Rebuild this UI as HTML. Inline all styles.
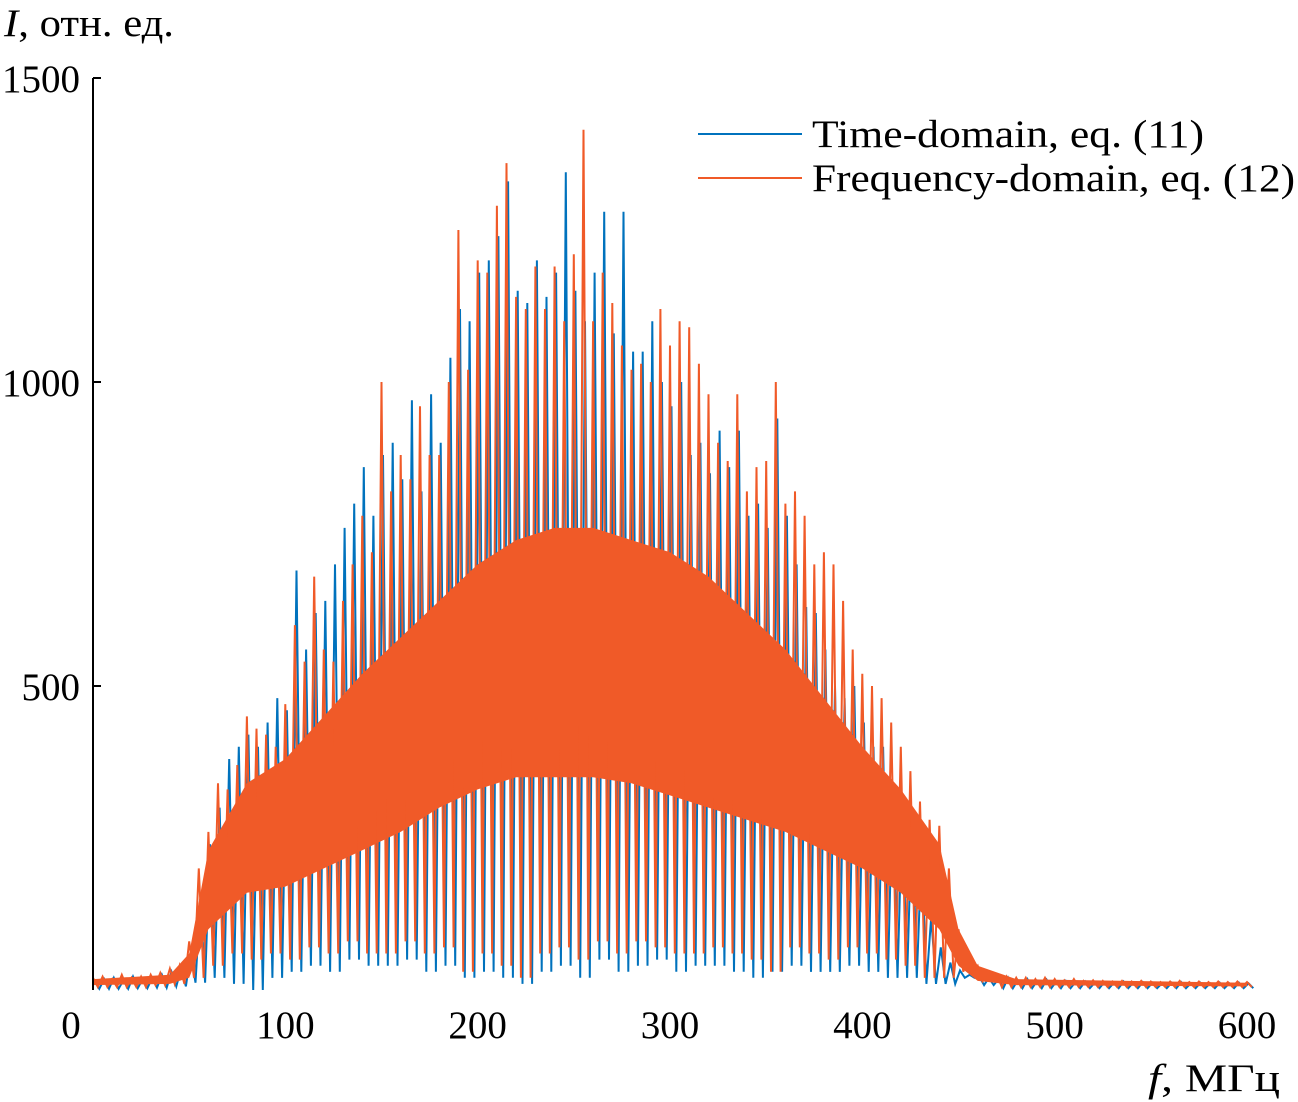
<!DOCTYPE html>
<html><head><meta charset="utf-8"><style>
html,body{margin:0;padding:0;background:#fff;}
svg{display:block;font-family:"Liberation Serif",serif;}
</style></head><body>
<svg id="chart" width="1298" height="1102" viewBox="0 0 1298 1102" xmlns="http://www.w3.org/2000/svg">
<g id="plot"></g>
<g>
<line x1="93" y1="78" x2="93" y2="990" stroke="#000" stroke-width="2"/>
</g>
<g id="yticks"></g>
<g id="xticks"></g>
<text x="4" y="36" font-size="39" textLength="170" lengthAdjust="spacingAndGlyphs"><tspan font-style="italic">I</tspan>, отн. ед.</text>
<text x="1148" y="1091" font-size="39" textLength="132" lengthAdjust="spacingAndGlyphs"><tspan font-style="italic">f</tspan>, МГц</text>
<g>
<g>
<line x1="698" y1="134" x2="802" y2="134" stroke="#0072bd" stroke-width="2"/>
<text x="812" y="147" font-size="39" textLength="392" lengthAdjust="spacingAndGlyphs">Time-domain, eq. (11)</text></g>
<g>
<line x1="698" y1="178" x2="802" y2="178" stroke="#f05a28" stroke-width="2"/>
<text x="812" y="191" font-size="39" textLength="483" lengthAdjust="spacingAndGlyphs">Frequency-domain, eq. (12)</text></g>
</g>
</svg>
<script>
const xTicks=[0,100,200,300,400,500,600];
const yTicks=[500,1000,1500];
const orangeHi=[20,22,18,25,20,22,25,28,35,
40,80,200,260,340,330,370,450,430,420,400,470,600,540,680,560,540,640,700,780,720,1000,820,880,840,960,880,880,1000,1250,1020,1200,1180,1290,1360,1140,1120,1190,1120,1190,1100,1210,1415,1100,1180,1130,1060,1020,1030,1000,1120,1060,1100,1090,1030,980,900,870,980,820,860,870,1000,800,820,780,700,720,700,640,560,520,500,480,440,400,360,310,280,270,200,100,60,40,30,
25,22,20,20,18,20,18,16,18,15,16,15,14,15,14,15,14,13,14,15,13,14,13,14,13,14,13];
const blueHi=[15,18,20,16,22,18,20,25,30,
35,60,150,240,300,380,400,420,400,440,480,460,690,560,620,640,700,760,800,860,780,880,900,840,970,820,980,900,1040,1120,1100,1180,1200,1240,1330,1150,1130,1200,1140,1180,1345,1150,1100,1180,1280,1080,1280,1050,1050,1100,1000,960,1000,880,900,850,920,860,920,780,800,760,940,780,700,630,620,560,500,480,500,440,400,400,340,300,290,230,120,70,45,32,25,22,20,
18,20,16,18,15,17,14,15,13,14,12,13,12,14,12,13,12,11,12,13,11,12,11,12,11,12,11];
const orangeLo=[5,5,5,8,10,20,40,60,50,60,50,70,60,80,60,60,80,60,70,30,60,40,20,60,70,50,80,60,80,70,60,60,70,60,50,30,70,60,50,70,60,50,40,20,20,30,15,5,5,5,5,5,5,5,5,5,5,5,5,5,5];
const blueLo=[2,2,3,4,6,12,20,10,0,20,30,40,30,50,40,40,50,30,40,20,30,20,10,30,40,20,50,30,40,50,30,40,40,30,20,30,40,30,30,40,30,20,20,10,10,20,8,3,3,3,3,3,3,3,3,3,3,3,3,3,3];
const coreX=[0,40,50,60,80,100,120,140,160,180,200,220,240,260,280,300,320,340,360,380,400,420,440,450,460,480,600];
const coreLo=[8,10,20,100,160,170,200,230,260,300,330,350,350,350,340,320,300,280,260,230,200,160,100,40,15,8,6];
const coreHi=[18,25,60,230,340,380,450,520,580,640,700,740,760,760,740,720,680,620,560,480,400,330,240,100,40,18,12];

const X=v=>93+v*(1154/600);
const Y=v=>990-v*(912/1500);
const NS="http://www.w3.org/2000/svg";
const plot=document.getElementById('plot');
function mk(tag,attrs,parent){const e=document.createElementNS(NS,tag);for(const k in attrs)e.setAttribute(k,attrs[k]);parent.appendChild(e);return e;}

function spikes(hi,lo,off){
  let pts=[];
  for(let i=0;i<hi.length;i++){
    const f=i*5;
    pts.push(X(f+off).toFixed(1)+','+Y(hi[i]).toFixed(1));
    pts.push(X(f+off+2.5).toFixed(1)+','+Y(lo[Math.floor(i/2)]).toFixed(1));
  }
  return pts.join(' ');
}
const b=mk('polyline',{points:spikes(blueHi,blueLo,0.8),fill:'none',stroke:'#0072bd','stroke-width':2},plot);



let cp=[];
for(let i=0;i<coreX.length;i++)cp.push(X(coreX[i]).toFixed(1)+','+Y(coreHi[i]).toFixed(1));
for(let i=coreX.length-1;i>=0;i--)cp.push(X(coreX[i]).toFixed(1)+','+Y(coreLo[i]).toFixed(1));
const c=mk('polygon',{points:cp.join(' '),fill:'#f05a28'},plot);



const o=mk('polyline',{points:spikes(orangeHi,orangeLo,0),fill:'none',stroke:'#f05a28','stroke-width':2},plot);



const yt=document.getElementById('yticks');
yTicks.forEach(v=>{
  const l=mk('line',{x1:93,x2:101,y1:Y(v),y2:Y(v),stroke:'#000','stroke-width':2},yt);
  
  
  const t=mk('text',{x:80,y:Y(v)+14,'font-size':39,'text-anchor':'end'},yt);
  t.textContent=v;
  
  
});
const xt=document.getElementById('xticks');
xTicks.forEach(v=>{
  const t=mk('text',{x:X(v)-(v===0?22:0),y:1038,'font-size':39,'text-anchor':'middle'},xt);
  t.textContent=v;
  
  
});
</script>
</body></html>
